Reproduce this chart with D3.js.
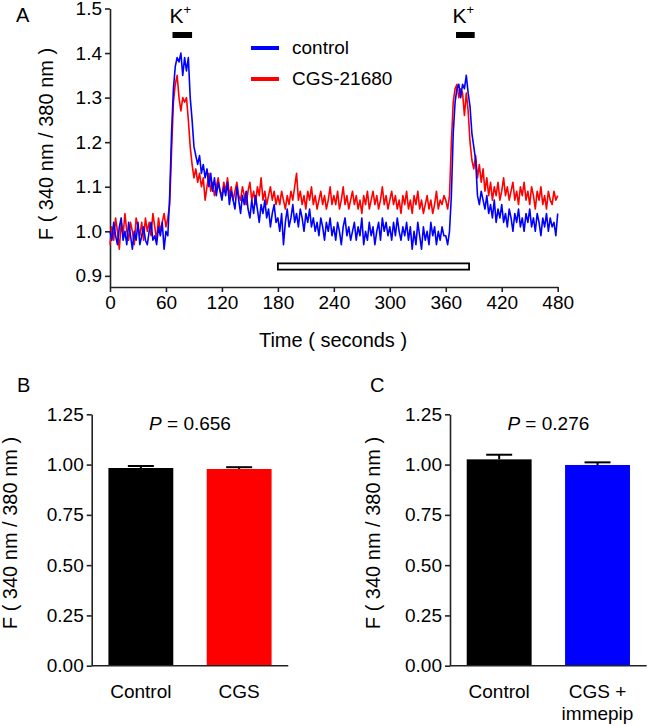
<!DOCTYPE html>
<html><head><meta charset="utf-8">
<script src="https://cdn.jsdelivr.net/npm/d3@7"></script>
<style>
body{margin:0;background:#fff}
svg{display:block}
text{font-family:Arial,"Liberation Sans",sans-serif;fill:#000}
</style>
</head><body>
<svg id="chart" width="649" height="726"></svg>
<script>
// ---------- DATA ----------
const timeStep = 2; // seconds between samples, t = 0..480
const controlTrace = [
1.00,0.98,1.02,0.99,0.97,1.01,1.03,0.98,1.00,0.97,
1.02,0.99,0.96,1.00,0.98,1.02,0.97,0.99,1.01,0.98,
0.97,1.00,1.02,0.98,0.99,0.97,1.01,0.99,1.02,0.96,
1.00,0.99,1.08,1.22,1.32,1.37,1.39,1.38,1.40,1.35,
1.39,1.36,1.39,1.30,1.25,1.19,1.17,1.15,1.17,1.13,
1.15,1.12,1.14,1.10,1.13,1.09,1.12,1.08,1.11,1.09,
1.07,1.10,1.08,1.11,1.06,1.09,1.07,1.05,1.10,1.07,
1.04,1.08,1.06,1.09,1.05,1.03,1.07,1.04,1.08,1.05,
1.02,1.06,1.04,1.07,1.03,1.05,1.01,1.04,1.06,1.02,
1.03,1.00,1.04,0.97,1.02,1.05,1.01,1.03,1.06,1.02,
1.04,1.01,1.05,1.03,1.00,1.04,1.02,1.05,1.01,1.03,
1.00,1.02,0.99,1.03,1.01,0.98,1.02,1.00,1.03,0.99,
1.01,0.98,1.02,1.00,0.97,1.01,1.03,0.99,1.01,0.98,
1.00,1.02,0.98,1.01,0.99,1.03,0.97,1.00,0.98,1.02,
0.99,1.01,0.97,1.00,1.02,0.98,1.03,1.00,1.02,0.99,
1.01,0.98,1.02,0.99,1.03,1.00,0.98,1.01,0.99,1.02,
0.98,1.01,0.96,1.00,0.97,1.02,0.99,0.96,1.01,0.98,
1.00,0.97,1.02,0.99,1.01,0.97,1.00,0.98,1.01,0.99,
0.99,0.97,1.00,1.08,1.22,1.29,1.32,1.33,1.30,1.33,
1.32,1.35,1.31,1.28,1.22,1.19,1.16,1.08,1.06,1.09,
1.07,1.05,1.08,1.04,1.06,1.03,1.07,1.02,1.05,1.03,
1.06,1.02,1.04,1.01,1.05,1.03,1.00,1.04,1.02,1.05,
1.01,1.03,1.00,1.04,1.02,1.05,1.01,1.03,1.00,1.04,
1.02,0.99,1.03,1.01,1.04,1.00,1.03,1.01,1.02,0.99,
1.04
];
const cgsTrace = [
0.97,1.01,0.98,1.03,1.00,0.96,1.02,0.99,1.04,1.00,
0.98,1.02,1.00,0.97,1.03,1.01,0.99,1.02,0.98,1.03,
1.00,1.02,0.99,1.04,1.01,0.98,1.03,1.00,1.02,1.04,
1.01,1.03,1.06,1.18,1.29,1.33,1.35,1.30,1.27,1.30,
1.29,1.30,1.25,1.19,1.15,1.12,1.14,1.11,1.13,1.10,
1.12,1.07,1.10,1.13,1.09,1.11,1.08,1.10,1.12,1.09,
1.08,1.11,1.09,1.12,1.08,1.10,1.07,1.09,1.11,1.08,
1.07,1.10,1.08,1.06,1.09,1.11,1.07,1.09,1.06,1.10,
1.08,1.12,1.07,1.09,1.06,1.08,1.10,1.07,1.09,1.06,
1.08,1.06,1.09,1.07,1.05,1.08,1.06,1.09,1.07,1.10,
1.13,1.07,1.09,1.06,1.08,1.05,1.09,1.07,1.10,1.06,
1.08,1.05,1.07,1.09,1.06,1.08,1.05,1.07,1.10,1.06,
1.08,1.06,1.09,1.05,1.07,1.10,1.06,1.08,1.05,1.07,
1.09,1.06,1.08,1.05,1.07,1.04,1.08,1.06,1.09,1.05,
1.07,1.09,1.06,1.08,1.05,1.07,1.10,1.06,1.08,1.05,
1.07,1.09,1.06,1.08,1.05,1.07,1.04,1.08,1.06,1.09,
1.05,1.07,1.04,1.08,1.06,1.09,1.05,1.07,1.04,1.06,
1.08,1.05,1.07,1.04,1.06,1.09,1.05,1.07,1.06,1.08,
1.07,1.05,1.08,1.20,1.29,1.32,1.33,1.30,1.32,1.31,
1.26,1.31,1.27,1.20,1.16,1.14,1.17,1.12,1.15,1.11,
1.14,1.09,1.12,1.08,1.11,1.07,1.10,1.08,1.11,1.07,
1.09,1.12,1.08,1.10,1.07,1.09,1.11,1.07,1.09,1.06,
1.10,1.08,1.11,1.07,1.09,1.06,1.10,1.08,1.05,1.09,
1.07,1.10,1.06,1.08,1.05,1.09,1.07,1.06,1.09,1.07,
1.08
];
const traceNames = ["control","CGS-21680"];
const traceColors = ["#0000ff","#ff0000"];
const xTicksA = [0,60,120,180,240,300,360,420,480];
const yTicksA = [0.9,1.0,1.1,1.2,1.3,1.4,1.5];
const kPulses = [[67,88],[371,391]];
const drugPeriod = [180,385];

const yTicksBar = [0,0.25,0.5,0.75,1.0,1.25];
const categoriesB = ["Control","CGS"];
const valuesB = [0.983,0.978];
const errorsB = [0.010,0.009];
const colorsB = ["#000000","#ff0000"];
const pB = "0.656";

const categoriesC = [["Control"],["CGS +","immepip"]];
const valuesC = [1.026,0.998];
const errorsC = [0.023,0.013];
const colorsC = ["#000000","#0000ff"];
const pC = "0.276";

// ---------- DRAW ----------
const svg = d3.select("#chart");
const FS = 19;

function styleAxis(g){
  g.selectAll(".domain").attr("stroke","#222").attr("stroke-width",1.6);
  g.selectAll(".tick line").attr("stroke","#222").attr("stroke-width",1.6);
  g.selectAll(".tick text").attr("font-size",FS).attr("font-family","Arial, 'Liberation Sans', sans-serif").attr("fill","#000");
}

// Panel A
const xA = d3.scaleLinear().domain([0,480]).range([110,557.7]);
const yA = d3.scaleLinear().domain([0.875,1.5]).range([287,8.5]);

const gA = svg.append("g");
gA.append("g").attr("transform","translate(0,287)")
  .call(d3.axisBottom(xA).tickValues(xTicksA).tickSize(5).tickSizeOuter(0).tickPadding(4).tickFormat(d3.format("d")))
  .call(styleAxis);
gA.append("g").attr("transform","translate(110,0)")
  .call(d3.axisLeft(yA).tickValues(yTicksA).tickSize(5).tickSizeOuter(0).tickPadding(3).tickFormat(d3.format(".1f")))
  .call(styleAxis);

const line = d3.line().x((d,i)=>xA(i*timeStep)).y(d=>yA(d));
[cgsTrace, controlTrace].forEach((tr,k)=>{
  gA.append("path").datum(tr).attr("d",line).attr("fill","none")
    .attr("stroke", k===0?traceColors[1]:traceColors[0]).attr("stroke-width",1.6).attr("stroke-linejoin","round");
});

// K+ bars
kPulses.forEach(p=>{
  gA.append("rect").attr("x",xA(p[0])).attr("y",32).attr("width",xA(p[1])-xA(p[0])).attr("height",6).attr("fill","#000");
  const t = gA.append("text").attr("x",(xA(p[0])+xA(p[1]))/2 - 2).attr("y",23).attr("text-anchor","middle").attr("font-size",21);
  t.append("tspan").text("K");
  t.append("tspan").attr("dy",-9).attr("font-size",13).text("+");
});
// drug period open bar
gA.append("rect").attr("x",xA(drugPeriod[0])).attr("y",yA(0.928)).attr("width",xA(drugPeriod[1])-xA(drugPeriod[0]))
  .attr("height",yA(0.914)-yA(0.928)).attr("fill","#fff").attr("stroke","#000").attr("stroke-width",1.8);

// legend
traceNames.forEach((n,i)=>{
  const y = 48 + i*31;
  gA.append("line").attr("x1",251).attr("x2",279).attr("y1",y).attr("y2",y).attr("stroke",traceColors[i]).attr("stroke-width",4);
  gA.append("text").attr("x",292).attr("y",y+6).attr("font-size",FS).text(n);
});

gA.append("text").attr("x",16).attr("y",22).attr("font-size",20).text("A");
gA.append("text").attr("transform","translate(53,144) rotate(-90)").attr("text-anchor","middle").attr("font-size",20)
  .text("F ( 340 nm / 380 nm )");
gA.append("text").attr("x",333).attr("y",347).attr("text-anchor","middle").attr("font-size",20).text("Time ( seconds )");

// Bar panels
function barPanel(x0, x1, cats, vals, errs, cols, pval, letter, letterX, labelX){
  const y = d3.scaleLinear().domain([0,1.25]).range([665.7,414.3]);
  const x = d3.scaleBand().domain(d3.range(cats.length)).range([x0,x1]).paddingInner(0.34).paddingOuter(0.17);
  const g = svg.append("g");
  g.selectAll("rect.bar").data(vals).join("rect").attr("class","bar")
    .attr("x",(d,i)=>x(i)).attr("width",x.bandwidth())
    .attr("y",d=>y(d)).attr("height",d=>y(0)-y(d)).attr("fill",(d,i)=>cols[i]);
  vals.forEach((v,i)=>{
    const cx = x(i)+x.bandwidth()/2;
    g.append("line").attr("x1",cx).attr("x2",cx).attr("y1",y(v)).attr("y2",y(v+errs[i])).attr("stroke","#000").attr("stroke-width",2);
    g.append("line").attr("x1",cx-13).attr("x2",cx+13).attr("y1",y(v+errs[i])).attr("y2",y(v+errs[i])).attr("stroke","#000").attr("stroke-width",2);
    const labs = Array.isArray(cats[i])?cats[i]:[cats[i]];
    labs.forEach((l,j)=>{
      g.append("text").attr("x",cx).attr("y",698+j*22).attr("text-anchor","middle").attr("font-size",FS).text(l);
    });
  });
  g.append("g").attr("transform",`translate(${x0},0)`)
    .call(d3.axisLeft(y).tickValues(yTicksBar).tickSize(5).tickSizeOuter(0).tickPadding(3).tickFormat(d3.format(".2f")))
    .call(styleAxis);
  g.append("line").attr("x1",x0).attr("x2",x1).attr("y1",y(0)).attr("y2",y(0)).attr("stroke","#222").attr("stroke-width",1.6);
  const pt = g.append("text").attr("x",(x0+x1)/2).attr("y",430).attr("text-anchor","middle").attr("font-size",FS);
  pt.append("tspan").attr("font-style","italic").text("P");
  pt.append("tspan").text(" = "+pval);
  g.append("text").attr("x",letterX).attr("y",392).attr("font-size",20).text(letter);
  g.append("text").attr("transform",`translate(${labelX},533) rotate(-90)`).attr("text-anchor","middle").attr("font-size",20)
    .text("F ( 340 nm / 380 nm )");
}
barPanel(91.7, 288.3, categoriesB, valuesB, errorsB, colorsB, pB, "B", 17, 17);
barPanel(450, 646.7, categoriesC, valuesC, errorsC, colorsC, pC, "C", 370, 380);
</script>
</body></html>
